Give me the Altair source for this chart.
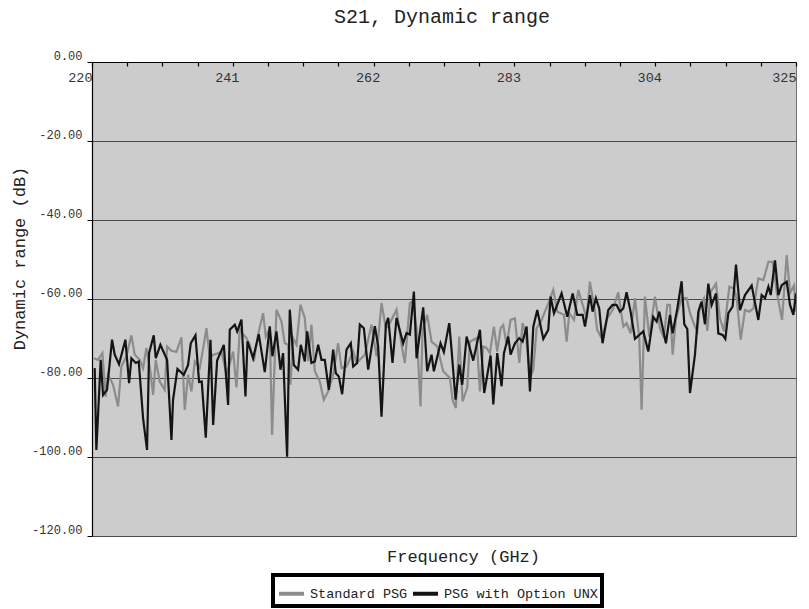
import altair as alt
import pandas as pd

# ---- text ----
TITLE = "S21, Dynamic range"
X_TITLE = "Frequency (GHz)"
Y_TITLE = "Dynamic range (dB)"
SERIES = ["Standard PSG", "PSG with Option UNX"]
SERIES_COLORS = ["#8c8c8c", "#141414"]

# ---- axis ticks ----
X_MAJOR = [220, 241, 262, 283, 304, 325]
Y_TICKS = [-120, -100, -80, -60, -40, -20, 0]

# ---- Standard PSG ----
STD_FREQ = [
    220.25, 220.90, 221.55, 222.04, 222.39, 223.14, 223.89, 224.38, 225.13, 225.88,
    226.37, 227.12, 227.62, 228.11, 228.71, 229.11, 229.51, 230.10, 230.85, 231.20,
    231.85, 232.59, 233.34, 233.83, 234.33, 234.83, 235.33, 236.07, 236.67, 237.07,
    237.57, 238.07, 238.57, 239.31, 240.06, 241.05, 241.55, 242.05, 242.55, 243.04,
    243.53, 244.13, 244.77, 245.52, 245.92, 246.51, 246.86, 247.51, 248.26, 248.75,
    249.25, 249.60, 250.00, 250.50, 251.09, 251.74, 252.24, 252.73, 253.23, 253.98,
    254.57, 255.22, 255.97, 256.71, 257.21, 257.96, 258.95, 259.45, 259.95, 260.69,
    261.69, 262.44, 263.18, 263.83, 264.43, 265.42, 266.17, 266.66, 267.41, 267.91,
    268.41, 269.00, 269.30, 269.99, 270.64, 271.49, 272.38, 273.38, 273.78, 274.27,
    274.77, 275.27, 275.96, 276.36, 277.36, 277.86, 278.35, 278.85, 279.35, 279.94,
    280.44, 280.94, 281.34, 281.84, 282.43, 283.08, 283.73, 284.22, 284.72, 285.32,
    285.82, 286.31, 287.06, 288.05, 288.80, 289.40, 290.39, 290.79, 291.19, 291.89,
    292.53, 293.18, 293.78, 294.26, 295.01, 295.35, 296.00, 296.85, 297.74, 298.49,
    299.24, 299.73, 300.33, 300.98, 301.62, 301.97, 302.47, 303.12, 303.96, 304.71,
    305.30, 305.80, 306.20, 306.60, 307.10, 307.94, 308.69, 309.19, 309.93, 310.28,
    310.68, 311.28, 311.77, 312.27, 313.07, 313.66, 314.26, 315.06, 315.75, 316.15,
    316.75, 317.39, 318.04, 318.64, 319.38, 320.13, 320.88, 321.52, 322.12, 322.92,
    323.61, 324.11, 324.71, 325.00,
]
STD_DB = [
    -75.0, -75.4, -73.7, -84.7, -79.2, -81.7, -87.2, -77.1, -74.5, -69.2,
    -74.1, -75.4, -77.5, -72.4, -78.3, -84.3, -75.4, -80.9, -83.0, -72.0,
    -73.1, -73.4, -69.7, -88.1, -79.2, -83.4, -75.8, -77.5, -71.6, -67.4,
    -75.0, -74.1, -73.9, -73.3, -79.2, -73.3, -82.4, -67.4, -69.0, -69.9,
    -71.6, -75.8, -69.0, -63.6, -69.5, -67.4, -94.4, -62.7, -65.7, -71.2,
    -71.6, -81.7, -69.9, -71.6, -61.4, -64.8, -75.8, -66.5, -78.3, -80.9,
    -85.5, -83.4, -79.2, -71.2, -77.5, -77.1, -73.3, -76.2, -75.4, -74.1,
    -66.5, -74.5, -61.0, -67.4, -66.1, -62.7, -71.6, -76.2, -61.0, -60.6,
    -67.4, -87.2, -67.8, -64.0, -70.8, -72.0, -78.3, -80.0, -85.5, -87.6,
    -69.5, -85.9, -82.5, -70.8, -69.9, -83.4, -72.0, -72.4, -73.7, -67.0,
    -73.3, -67.4, -66.6, -71.6, -65.3, -64.9, -76.2, -66.1, -69.1, -80.0,
    -77.9, -67.4, -65.3, -61.1, -57.7, -63.2, -64.0, -70.8, -63.6, -65.3,
    -57.7, -61.5, -64.9, -55.6, -63.2, -67.8, -69.9, -64.9, -62.4, -58.3,
    -67.0, -66.1, -68.7, -59.8, -69.9, -88.0, -59.4, -69.5, -59.4, -67.4,
    -69.9, -61.5, -61.5, -74.1, -64.9, -59.8, -59.8, -63.6, -67.0, -68.2,
    -61.5, -59.8, -68.1, -58.2, -56.1, -64.9, -68.2, -56.9, -57.3, -59.8,
    -70.3, -62.8, -63.2, -62.4, -54.8, -55.2, -50.6, -50.6, -58.2, -65.3,
    -48.9, -58.5, -56.6, -63.2,
]

# ---- PSG with Option UNX ----
UNX_FREQ = [
    220.40, 220.65, 221.30, 221.65, 222.24, 222.99, 223.39, 224.03, 224.98, 225.53,
    225.88, 226.52, 226.97, 227.62, 228.21, 228.51, 229.21, 229.51, 230.20, 231.20,
    231.85, 232.09, 232.74, 233.69, 234.33, 234.73, 235.43, 235.97, 236.37, 236.97,
    237.67, 238.07, 238.66, 239.66, 240.30, 240.55, 241.30, 241.65, 242.29, 242.89,
    243.19, 244.03, 244.87, 245.77, 246.51, 246.91, 247.51, 248.11, 248.50, 249.10,
    249.50, 250.10, 250.74, 251.14, 251.74, 252.09, 252.73, 253.23, 253.73, 254.23,
    254.72, 255.32, 255.97, 256.37, 256.81, 257.31, 257.96, 258.60, 258.95, 259.55,
    259.95, 260.55, 261.19, 262.19, 262.68, 263.18, 263.83, 264.18, 264.82, 265.42,
    266.41, 266.91, 267.41, 268.01, 268.41, 269.40, 269.99, 270.64, 270.99, 271.98,
    272.48, 273.28, 273.63, 274.22, 274.77, 275.22, 275.87, 276.86, 277.86, 278.50,
    279.45, 279.85, 280.44, 281.09, 281.44, 282.08, 282.43, 283.08, 283.73, 284.22,
    284.82, 285.32, 285.82, 286.41, 287.31, 288.05, 288.40, 288.90, 290.04, 290.89,
    291.69, 292.38, 293.18, 293.53, 294.27, 294.66, 295.16, 295.65, 296.15, 297.00,
    297.64, 298.24, 298.74, 299.24, 299.73, 300.33, 300.98, 301.62, 302.22, 302.97,
    303.71, 304.21, 304.61, 305.60, 306.20, 306.60, 307.30, 307.94, 308.34, 308.79,
    309.19, 309.93, 310.43, 310.93, 311.42, 311.92, 312.42, 313.07, 313.41, 314.06,
    314.46, 314.91, 315.55, 316.05, 316.65, 317.39, 318.39, 319.38, 319.88, 320.38,
    320.88, 321.23, 321.87, 322.37, 322.87, 323.61, 324.11, 324.61, 325.00,
]
UNX_DB = [
    -77.5, -98.2, -75.4, -84.3, -83.0, -70.3, -74.1, -76.5, -70.3, -81.3,
    -75.0, -76.2, -75.8, -90.2, -98.2, -73.7, -69.2, -75.0, -71.6, -75.4,
    -95.7, -85.5, -77.7, -79.2, -76.7, -71.2, -69.2, -81.0, -80.9, -95.1,
    -70.3, -91.9, -75.6, -71.6, -86.8, -67.8, -66.5, -68.2, -65.2, -84.7,
    -70.7, -75.0, -68.9, -78.5, -66.9, -74.5, -68.2, -77.9, -73.7, -99.9,
    -62.7, -76.7, -77.9, -71.6, -75.8, -68.2, -76.2, -75.8, -71.6, -75.4,
    -75.4, -83.0, -72.8, -78.8, -79.6, -84.1, -72.8, -71.2, -77.1, -76.2,
    -66.5, -67.4, -77.9, -66.9, -72.0, -89.8, -66.5, -64.8, -76.2, -64.8,
    -71.2, -68.6, -69.0, -58.1, -75.0, -62.1, -78.3, -74.1, -78.3, -71.2,
    -73.4, -66.1, -72.9, -85.5, -76.6, -81.7, -69.5, -75.6, -67.8, -83.8,
    -74.3, -86.7, -73.7, -82.1, -73.7, -69.5, -74.1, -71.2, -69.9, -70.8,
    -67.0, -83.4, -67.0, -62.8, -70.1, -67.8, -59.4, -63.6, -58.6, -64.5,
    -58.6, -64.0, -64.0, -67.0, -59.0, -63.2, -59.8, -62.4, -71.2, -62.8,
    -61.5, -61.5, -63.2, -62.4, -58.3, -63.2, -70.1, -69.1, -68.2, -73.3,
    -64.5, -65.7, -63.2, -71.2, -64.0, -68.7, -62.4, -55.5, -66.4, -67.6,
    -83.8, -74.1, -63.2, -60.7, -66.4, -56.1, -61.5, -58.6, -68.7, -69.1,
    -70.1, -63.6, -61.9, -51.3, -62.8, -59.0, -56.6, -65.3, -59.0, -59.8,
    -56.9, -59.0, -50.2, -59.0, -56.5, -55.6, -61.5, -64.0, -58.6,
]

FONT = "Liberation Mono"
PLOT_W, PLOT_H = 704, 474

# quarter-step tick marks between the labelled frequencies
x_tick_values = [
    a + (b - a) * k / 4 for a, b in zip(X_MAJOR, X_MAJOR[1:]) for k in range(4)
] + [X_MAJOR[-1]]
major_list = ",".join(str(v) for v in X_MAJOR)
edge_test = f"datum.value == {X_MAJOR[0]} || datum.value == {X_MAJOR[-1]}"

x_scale = alt.Scale(domain=[X_MAJOR[0], X_MAJOR[-1]], nice=False, zero=False)
y_scale = alt.Scale(domain=[Y_TICKS[0], Y_TICKS[-1]], nice=False)
color_scale = alt.Scale(domain=SERIES, range=SERIES_COLORS)

# frequency axis is pulled up onto the top edge, so its ticks and labels
# point down into the plot; its title stays below the plot
x_axis = alt.Axis(
    orient="bottom",
    offset=-PLOT_H,
    values=x_tick_values,
    labelExpr=f"indexof([{major_list}], datum.value) >= 0 ? format(datum.value, 'd') : ''",
    grid=False,
    domainColor="black",
    domainWidth=1.2,
    tickColor="black",
    tickSize=4,
    tickWidth=1.2,
    labelPadding=4,
    labelFont=FONT,
    labelFontSize=13.5,
    labelColor="#333333",
    labelOverlap=False,
    labelFlush=False,
    labelAlign={"condition": {"test": edge_test, "value": "right"}, "value": "center"},
    labelOffset={"condition": {"test": edge_test, "value": 0}, "value": -6},
    title=X_TITLE,
    titleFont=FONT,
    titleFontSize=17,
    titleFontWeight="normal",
    titleColor="#222222",
    titleX=371,
    titleY=494,
    titleAlign="center",
    titleBaseline="middle",
)

y_axis = alt.Axis(
    orient="left",
    values=Y_TICKS,
    labelExpr="(datum.value < 0 ? '-' : '') + format(abs(datum.value), '.2f')",
    grid=True,
    gridColor="#4a4a4a",
    gridWidth=1.2,
    domainColor="black",
    domainWidth=1.2,
    tickColor="black",
    tickSize=5,
    labelPadding=5,
    labelFont=FONT,
    labelFontSize=12,
    labelColor="#333333",
    labelBaseline="alphabetic",
    labelOffset=-3,
    labelOverlap=False,
    labelFlush=False,
    title=Y_TITLE,
    titleFont=FONT,
    titleFontSize=17,
    titleFontWeight="normal",
    titleColor="#222222",
    titleAngle=270,
    titleX=-73,
    titleY=196,
    titleAlign="center",
    titleBaseline="middle",
)

legend = alt.Legend(
    title=None,
    orient="none",
    legendX=181,
    legendY=513,
    direction="horizontal",
    symbolType="stroke",
    symbolSize=625,
    symbolStrokeWidth=4,
    labelFont=FONT,
    labelFontSize=13.5,
    labelColor="#222222",
    labelOffset=4,
    columnPadding=-3,
    padding=4,
    strokeColor="black",
    fillColor="white",
)


def series_layer(freq, db, name):
    df = pd.DataFrame({"freq": freq, "db": db, "series": name})
    return alt.Chart(df).mark_line(strokeWidth=2.2, clip=True).encode(
        x=alt.X("freq:Q", scale=x_scale, axis=x_axis),
        y=alt.Y("db:Q", scale=y_scale, axis=y_axis),
        color=alt.Color("series:N", scale=color_scale, legend=legend),
    )


chart = (
    alt.layer(
        series_layer(STD_FREQ, STD_DB, SERIES[0]),
        series_layer(UNX_FREQ, UNX_DB, SERIES[1]),
    )
    .properties(
        width=PLOT_W,
        height=PLOT_H,
        autosize=alt.AutoSizeParams(type="none"),
        padding={"left": 92, "top": 62, "right": 13, "bottom": 73},
        background="white",
        title=alt.TitleParams(
            text=TITLE,
            font=FONT,
            fontSize=20,
            fontWeight="normal",
            color="#222222",
            anchor="middle",
            baseline="alphabetic",
            offset=6,
            dx=-2,
        ),
    )
    .configure_view(fill="#cccccc", stroke="#707070", strokeWidth=1)
    .configure_legend(strokeWidth=4)
)

chart.save("out.html", embed_options={"renderer": "svg", "actions": False})
